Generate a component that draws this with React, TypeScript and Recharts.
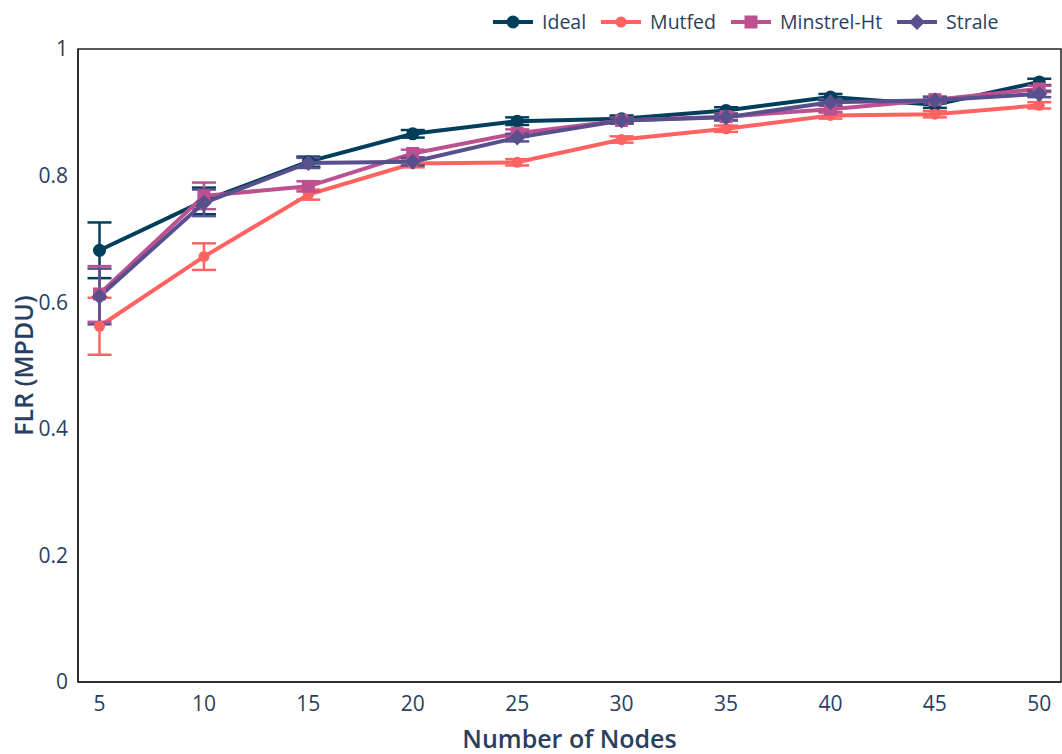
import {
  LineChart,
  Line,
  XAxis,
  YAxis,
  ErrorBar,
  ReferenceArea,
} from "recharts"

const nodes = [5, 10, 15, 20, 25, 30, 35, 40, 45, 50]

const ideal = [0.682, 0.76, 0.822, 0.866, 0.886, 0.89, 0.903, 0.924, 0.912, 0.948]
const mutfed = [0.562, 0.672, 0.77, 0.819, 0.821, 0.857, 0.874, 0.895, 0.897, 0.911]
const minstrel = [0.613, 0.768, 0.783, 0.835, 0.867, 0.887, 0.893, 0.905, 0.92, 0.937]
const strale = [0.609, 0.757, 0.82, 0.822, 0.86, 0.887, 0.892, 0.916, 0.919, 0.929]

const idealErr = [0.044, 0.021, 0.008, 0.006, 0.006, 0.005, 0.005, 0.005, 0.005, 0.005]
const mutfedErr = [0.045, 0.021, 0.008, 0.006, 0.005, 0.005, 0.005, 0.005, 0.005, 0.005]
const minstrelErr = [0.044, 0.021, 0.008, 0.006, 0.006, 0.005, 0.005, 0.005, 0.005, 0.005]
const straleErr = [0.044, 0.021, 0.008, 0.006, 0.006, 0.005, 0.005, 0.005, 0.005, 0.005]

const xTicks = [5, 10, 15, 20, 25, 30, 35, 40, 45, 50]
const yTicks = [0, 0.2, 0.4, 0.6, 0.8, 1]

const data = nodes.map((n, i) => ({
  n,
  ideal: ideal[i],
  mutfed: mutfed[i],
  minstrel: minstrel[i],
  strale: strale[i],
  idealErr: idealErr[i],
  mutfedErr: mutfedErr[i],
  minstrelErr: minstrelErr[i],
  straleErr: straleErr[i],
}))

const C = {
  ideal: "#003f5c",
  mutfed: "#ff6361",
  minstrel: "#bc5090",
  strale: "#58508d",
}

const textColor = "#2a3f5f"
const font = "'Open Sans', sans-serif"

type Shape = "circle" | "smallcircle" | "square" | "diamond"

const marker = (shape: Shape, x: number, y: number, color: string, key?: any) => {
  if (shape === "circle") return <circle key={key} cx={x} cy={y} r={6.5} fill={color} />
  if (shape === "smallcircle") return <circle key={key} cx={x} cy={y} r={5.5} fill={color} />
  if (shape === "square")
    return <rect key={key} x={x - 6.5} y={y - 6.5} width={13} height={13} fill={color} />
  return (
    <path
      key={key}
      d={`M${x},${y - 8}L${x + 8},${y}L${x},${y + 8}L${x - 8},${y}Z`}
      fill={color}
    />
  )
}

const dotFor = (shape: Shape, color: string) => (props: any) =>
  marker(shape, props.cx, props.cy, color, props.index)

const series = [
  { key: "ideal", err: "idealErr", shape: "circle" as Shape, color: C.ideal, name: "Ideal" },
  { key: "mutfed", err: "mutfedErr", shape: "smallcircle" as Shape, color: C.mutfed, name: "Mutfed" },
  { key: "minstrel", err: "minstrelErr", shape: "square" as Shape, color: C.minstrel, name: "Minstrel-Ht" },
  { key: "strale", err: "straleErr", shape: "diamond" as Shape, color: C.strale, name: "Strale" },
]

// legend drawn as plain html over the chart
const ChartLegend = () => (
  <div
    style={{
      position: "absolute",
      top: 9,
      left: 492,
      display: "flex",
      alignItems: "center",
      fontFamily: font,
    }}
  >
    {series.map((s, i) => (
      <div key={s.key} style={{ display: "flex", alignItems: "center", marginLeft: i ? 14 : 0 }}>
        <svg width={42} height={26}>
          <line x1={1} y1={13} x2={41} y2={13} stroke={s.color} strokeWidth={4} />
          {marker(s.shape, 21, 13, s.color)}
        </svg>
        <span
          style={{
            color: textColor,
            fontSize: 19.5,
            fontWeight: 500,
            marginLeft: 8,
            lineHeight: "26px",
          }}
        >
          {s.name}
        </span>
      </div>
    ))}
  </div>
)

const App = () => {
  return (
    <div
      style={{
        position: "absolute",
        left: 0,
        top: 0,
        width: 1062,
        height: 754,
        background: "#fff",
      }}
    >
      <LineChart
        width={1062}
        height={754}
        data={data}
        margin={{ top: 49, right: 1, left: 0, bottom: 0 }}
      >
        <ReferenceArea
          x1={3.97}
          x2={51.04}
          y1={0}
          y2={1}
          fill="none"
          stroke="#222"
          strokeWidth={1.5}
          ifOverflow="extendDomain"
        />
        <XAxis
          dataKey="n"
          type="number"
          domain={[3.97, 51.04]}
          ticks={xTicks}
          allowDataOverflow
          height={72}
          tickLine={false}
          axisLine={{ stroke: "#222", strokeWidth: 1.5 }}
          tick={{ fill: textColor, fontSize: 21, fontFamily: font }}
          tickMargin={8}
          label={{
            value: "Number of Nodes",
            position: "insideBottom",
            offset: 6,
            fill: textColor,
            fontSize: 25,
            fontWeight: 600,
            fontFamily: font,
          }}
        />
        <YAxis
          type="number"
          domain={[0, 1]}
          ticks={yTicks}
          width={78}
          tickLine={false}
          axisLine={{ stroke: "#222", strokeWidth: 1.5 }}
          tick={{ fill: textColor, fontSize: 21, fontFamily: font }}
          tickMargin={4}
          tickFormatter={(v: number) => String(v)}
          label={{
            value: "FLR (MPDU)",
            angle: -90,
            position: "insideLeft",
            offset: 24,
            style: { textAnchor: "middle" },
            fill: textColor,
            fontSize: 25,
            fontWeight: 600,
            fontFamily: font,
          }}
        />
        {series.map((s) => (
          <Line
            key={s.key}
            dataKey={s.key}
            name={s.name}
            stroke={s.color}
            strokeWidth={4}
            dot={dotFor(s.shape, s.color)}
            activeDot={false}
            isAnimationActive={false}
          >
            <ErrorBar
              dataKey={s.err}
              direction="y"
              width={12}
              strokeWidth={2.5}
              stroke={s.color}
              isAnimationActive={false}
            />
          </Line>
        ))}
      </LineChart>
      <ChartLegend />
    </div>
  )
}

export default App
